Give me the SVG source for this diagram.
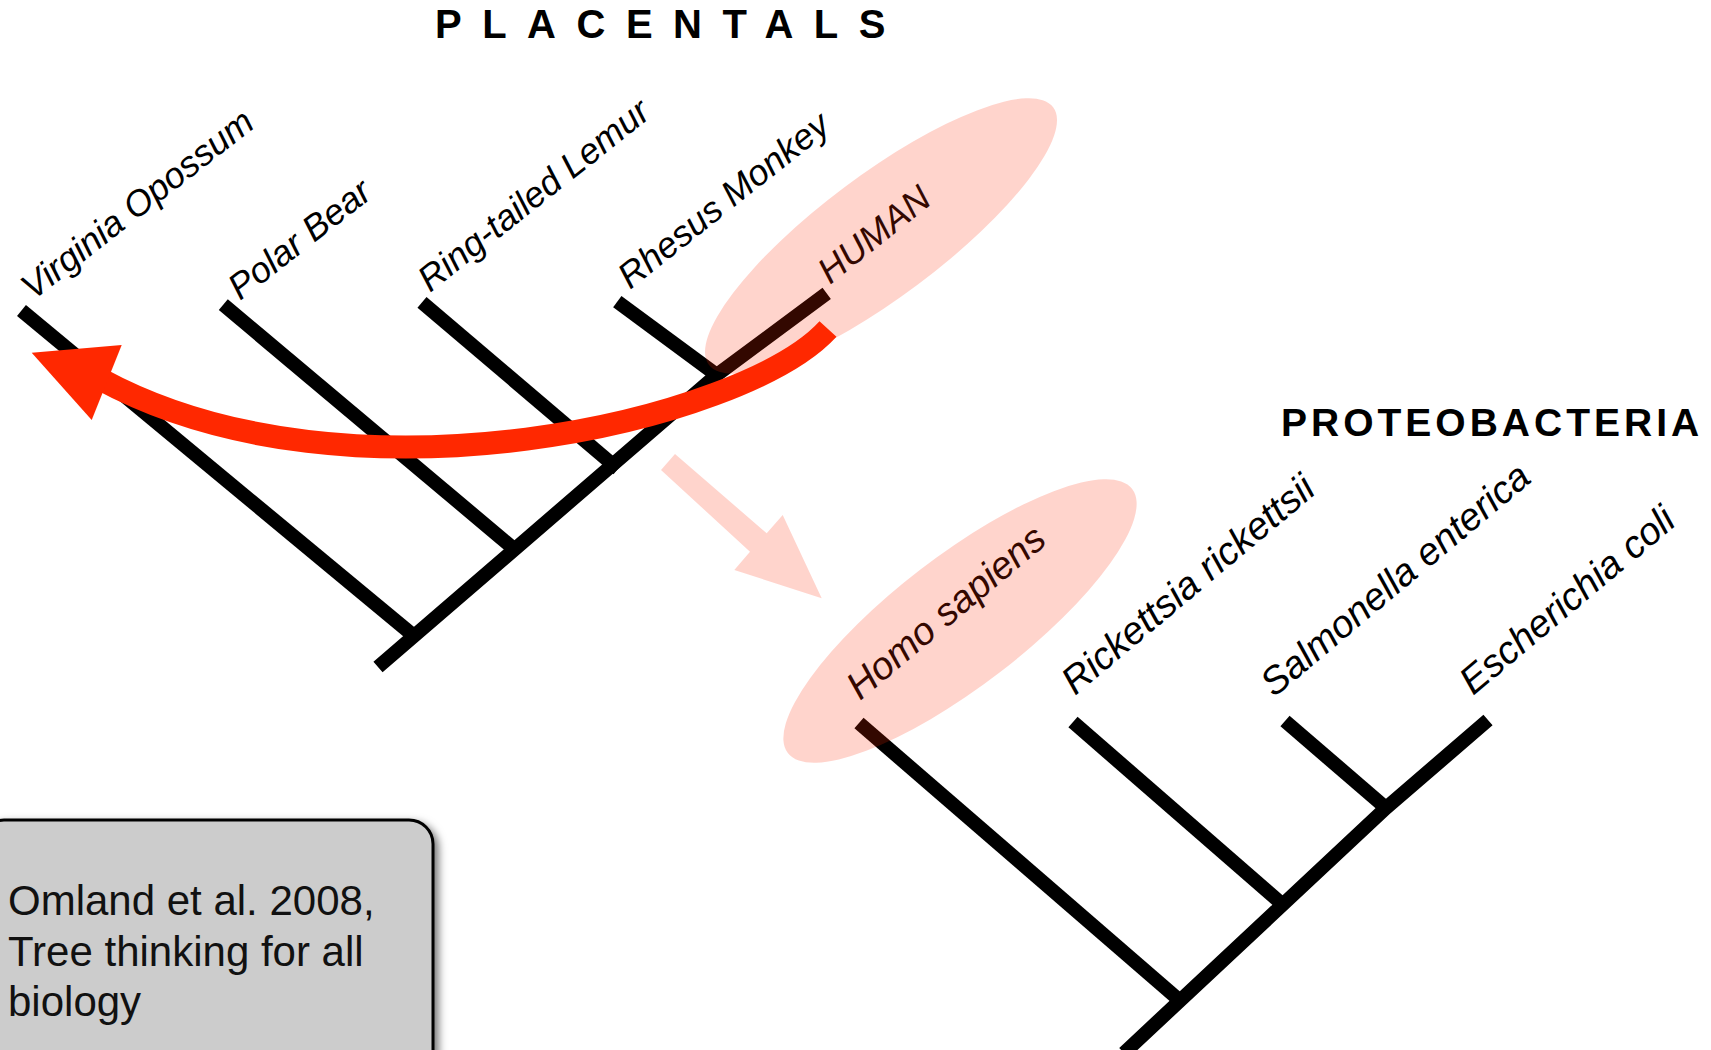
<svg xmlns="http://www.w3.org/2000/svg" width="1711" height="1050" viewBox="0 0 1711 1050">
<defs>
<style>
.br{fill:none;stroke:#000;stroke-width:14;stroke-linecap:butt;stroke-linejoin:miter}
.lab{font-family:"Liberation Sans",Arial,sans-serif;font-style:italic;font-size:36px;fill:#000}
.labb{font-family:"Liberation Sans",Arial,sans-serif;font-style:italic;font-size:38.5px;fill:#000}
.ttl{font-family:"Liberation Sans",Arial,sans-serif;font-weight:bold;fill:#000}
.hl{fill:#ff2800;fill-opacity:0.2}
.note{font-family:"Liberation Sans",Arial,sans-serif;font-size:42px;fill:#111}
</style>
<filter id="sh" x="-10%" y="-10%" width="130%" height="130%">
<feDropShadow dx="4" dy="4" stdDeviation="4" flood-color="#000" flood-opacity="0.55"/>
</filter>
</defs>
<rect width="1711" height="1050" fill="#fff"/>

<g id="placentals-title"><text class="ttl" x="435" y="38" font-size="40" letter-spacing="20.5">PLACENTALS</text></g>
<g id="proteobacteria-title"><text class="ttl" x="1281" y="436" font-size="39" letter-spacing="4">PROTEOBACTERIA</text></g>

<g id="connectors">
<path class="br" d="M378,667 L716.7,375 L826.7,293.3"/>
<path class="br" d="M21.5,310.5 L414,636"/>
<path class="br" d="M223.3,304.7 L514.5,549.3"/>
<path class="br" d="M422,302.3 L618,469"/>
<path class="br" d="M617.3,301.7 L716.7,375"/>
<path class="br" d="M1488,720 L1386,808 L1124,1053"/>
<path class="br" d="M859,723 L1178,999"/>
<path class="br" d="M1073,722 L1282,904"/>
<path class="br" d="M1285,721 L1386,808"/>
</g>

<g id="virginia-opossum"><text class="lab" transform="translate(33,301) rotate(-38)">Virginia Opossum</text></g>
<g id="polar-bear"><text class="lab" transform="translate(240,301) rotate(-38)">Polar Bear</text></g>
<g id="ring-tailed-lemur"><text class="lab" transform="translate(430,293) rotate(-38.5)">Ring-tailed Lemur</text></g>
<g id="rhesus-monkey"><text class="lab" transform="translate(630,290) rotate(-38.5)">Rhesus Monkey</text></g>
<g id="human"><text class="lab" transform="translate(830,285) rotate(-38.5)">HUMAN</text></g>
<g id="homo-sapiens"><text class="labb" transform="translate(860,701) rotate(-40)">Homo sapiens</text></g>
<g id="rickettsia"><text class="labb" transform="translate(1075,696) rotate(-40)">Rickettsia rickettsii</text></g>
<g id="salmonella"><text class="labb" transform="translate(1274,698) rotate(-40)">Salmonella enterica</text></g>
<g id="escherichia"><text class="labb" transform="translate(1473,696) rotate(-40)">Escherichia coli</text></g>

<g id="human-highlight"><ellipse class="hl" cx="0" cy="0" rx="215" ry="61" transform="translate(881,236) rotate(-36.8)"/></g>
<g id="homo-highlight"><ellipse class="hl" cx="0" cy="0" rx="217" ry="65" transform="translate(960,621) rotate(-37.5)"/></g>

<g id="red-arrow">
<path d="M828,329 C745,420 350,515 100,379" fill="none" stroke="#ff2800" stroke-width="23"/>
<polygon points="31.7,352.7 121.7,345 91.7,420" fill="#ff2800"/>
</g>

<g id="pink-arrow">
<polygon class="hl" points="675,454 766.7,533.3 782.7,515 821.7,598.3 734.3,570 750,551.7 661,470"/>
</g>

<g id="citation">
<rect x="-20" y="820" width="453" height="260" rx="24" fill="#cccccc" stroke="#000" stroke-width="3" filter="url(#sh)"/>
<text class="note" x="8" y="915">Omland et al. 2008,</text>
<text class="note" x="8" y="965.5">Tree thinking for all</text>
<text class="note" x="8" y="1016">biology</text>
</g>
</svg>
